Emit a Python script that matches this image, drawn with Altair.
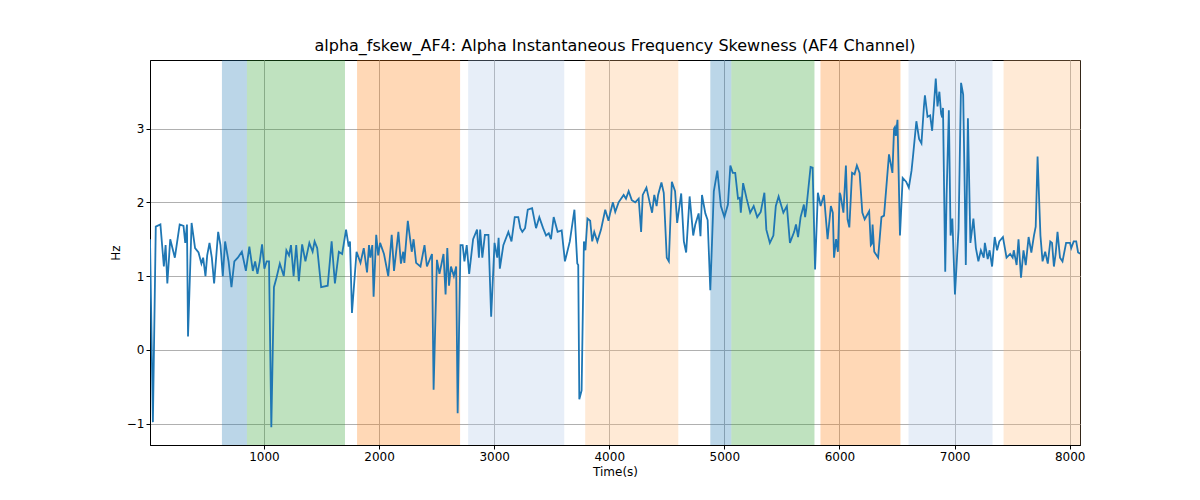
import altair as alt
import pandas as pd
import numpy as np

t = [10,35,60,100,130,145,160,185,225,267,300,315,330,339,370,400,430,455,470,490,505,525,545,565,600,620,640,660,690,715,740,770,805,840,870,900,920,940,960,980,1000,1020,1040,1060,1080,1100,1125,1155,1175,1195,1210,1230,1250,1270,1295,1320,1350,1375,1390,1410,1440,1490,1520,1545,1575,1600,1630,1650,1660,1675,1710,1740,1765,1790,1805,1815,1830,1840,1860,1875,1895,1925,1950,
     2009,2043,2080,2110,2130,2168,2190,2210,2220,2250,2284,2300,2322,2360,2395,2416,2460,2474,2503,2525,2560,2578,2593,2608,2625,2650,2670,2683,2704,2720,2733,2750,2768,2797,2826,2840,2849,2865,2884,2910,2930,2955,2975,2985,2994,3020,3057,3080,3104,3130,3145,3160,3180,3200,3232,3261,3285,3313,3335,3355,3371,3391,3420,3450,3474,3510,3544,3565,3572,3580,3597,3614,3625,3640,3660,3675,3690,3713,3740,3771,3795,3820,3849,3862,3877,
     4009,4032,4052,4081,4125,4145,4168,4195,4225,4255,4276,4290,4322,4350,4371,4390,4410,4423,4452,4472,4498,4516,4542,4570,4588,4623,4646,4666,4696,4727,4745,4774,4790,4803,4832,4852,4875,4904,4933,4962,4991,5020,5040,5060,5080,5103,5118,5126,5145,5174,5203,5232,5261,5290,5320,5336,5365,5394,5414,5437,5476,5505,5530,5565,5580,5597,5618,5645,5655,5664,5700,5717,5737,5760,5783,5810,5840,5867,5883,5893,5910,5925,5939,5960,5980,6000,
     6021,6046,6067,6081,6096,6119,6140,6160,6183,6206,6226,6264,6278,6287,6293,6307,6340,6368,6390,6432,6461,6475,6482,6490,6504,6525,6548,6577,6600,6623,6637,6664,6687,6707,6728,6736,6757,6778,6794,6823,6837,6852,6866,6875,6881,6899,6910,6928,6942,6956,6977,7006,7026,7043,7055,7064,7081,7101,7125,7145,7165,7185,7208,7217,7240,7255,7275,7296,7315,7333,7362,7391,7420,7440,7449,7472,7487,7507,7527,7545,7568,7590,7611,7625,7640,7663,7680,7701,7722,7742,7756,7771,7785,7800,7820,7840,7869,7900,7910,7930,7950,7965,7986]
v = [1.5,-0.98,1.67,1.7,1.13,1.42,0.9,1.5,1.25,1.7,1.68,1.45,1.7,0.18,1.72,1.38,1.32,1.17,1.25,1.0,1.28,1.45,1.25,0.9,1.6,1.42,1.0,1.47,1.2,0.85,1.2,1.25,1.33,1.07,1.4,1.07,1.2,1.03,1.2,1.43,1.1,1.2,1.2,-1.05,0.85,0.98,1.17,1.0,1.35,1.28,1.42,1.0,1.42,0.93,1.43,1.2,1.45,1.33,1.47,1.38,0.85,0.87,1.47,0.9,1.33,1.3,1.63,1.4,1.47,0.5,1.33,1.18,1.38,1.05,1.42,1.25,1.42,0.72,1.56,1.28,1.45,1.3,1.0,
     1.45,1.3,1.0,1.56,1.07,1.6,1.17,1.33,1.18,1.75,1.33,1.5,1.18,1.13,1.42,1.13,1.3,-0.54,1.22,1.03,1.3,0.75,1.38,0.87,1.13,1.0,1.13,-0.86,1.42,1.42,1.2,1.42,1.03,1.5,1.63,1.25,1.63,1.25,1.56,1.56,0.45,1.45,1.25,1.52,1.1,1.42,1.6,1.47,1.8,1.8,1.65,1.6,1.65,1.9,1.92,1.65,1.8,1.65,1.55,1.58,1.5,1.8,1.6,1.62,1.2,1.47,1.9,1.17,1.15,-0.67,-0.55,1.47,1.35,1.78,1.75,1.47,1.6,1.47,1.63,1.9,1.75,1.85,1.98,1.97,2.0,
     1.86,2.0,1.87,2.0,2.1,2.05,2.15,2.03,2.0,2.05,1.6,2.1,2.2,2.0,1.86,2.1,1.95,2.1,2.27,2.13,1.25,1.2,2.28,2.15,1.72,2.12,1.47,1.32,2.08,1.55,1.7,1.85,1.54,2.1,1.85,1.76,0.81,2.15,2.43,1.95,1.8,1.97,2.5,2.4,2.4,2.05,2.06,1.86,2.26,2.05,1.86,1.95,1.8,1.87,2.13,1.63,1.45,1.55,1.95,2.08,1.86,1.95,1.45,1.6,1.7,1.53,1.8,1.97,1.8,1.9,2.48,2.47,1.09,2.13,1.95,2.1,1.5,1.95,1.86,1.25,1.5,1.33,2.13,2.38,1.9,2.5,
     2.1,1.86,2.5,1.77,1.66,2.4,2.38,2.5,2.4,1.86,1.77,1.88,1.42,1.44,1.7,1.33,1.25,1.8,1.82,2.65,2.4,3.0,3.02,2.9,3.12,1.55,2.33,2.28,2.2,2.43,2.65,3.1,2.86,2.8,3.3,3.45,3.16,3.18,2.97,3.68,3.3,3.5,3.2,3.15,3.28,1.06,2.1,3.25,1.55,1.78,0.75,1.64,3.62,3.46,2.22,1.15,3.14,1.45,1.78,1.38,1.2,1.35,1.25,1.45,1.23,1.35,1.13,1.53,1.35,1.47,1.53,1.25,1.3,1.25,1.35,1.15,1.5,0.98,1.35,1.15,1.53,1.32,1.55,1.67,2.62,1.55,1.2,1.33,1.17,1.47,1.45,1.13,1.3,1.6,1.25,1.2,1.45,1.45,1.38,1.47,1.47,1.32,1.3]

# calibration of the first time readings against the axis ticks, per crop
cal_read = [[0, 1060, 1950], [2009, 2684, 3877], [4009, 4875, 6000], [6021, 6728, 7986]]
cal_true = [[0, 1064, 2078], [2009, 2684, 4090], [4009, 4878, 6066], [6009, 6734, 8096]]
crop_start = [0, 2000, 4000, 6010]
crop_limit = [2009, 4009, 6009, 8100]

span_start = [635, 852, 1809, 2774, 3791, 4878, 5061, 5835, 6600, 7426]
span_end = [852, 1704, 2704, 3609, 4600, 5061, 5783, 6530, 7330, 8096]
span_color = ["#1f77b4", "#2ca02c", "#ff7f0e", "#aec7e8", "#ffbb78",
              "#1f77b4", "#2ca02c", "#ff7f0e", "#aec7e8", "#ffbb78"]

n = min(len(t), len(v))
tt, vv = [], []
for ti, vi in zip(t[:n], v[:n]):
    k = max(i for i in range(4) if ti >= crop_start[i])
    tc = float(np.interp(ti, cal_read[k], cal_true[k], left=None))
    if ti > cal_read[k][-1]:
        tc = cal_true[k][-1]
    if tc < crop_limit[k]:
        tt.append(tc); vv.append(vi)
line_df = pd.DataFrame({"t": tt, "v": vv})
span_df = pd.DataFrame({"s": span_start, "e": span_end, "c": span_color})

W, H = 930, 385
xs = alt.Scale(domain=[10, 8090], nice=False, zero=False)
ys = alt.Scale(domain=[-1.29, 3.93], nice=False, zero=False)

spans = alt.Chart(span_df).mark_rect(opacity=0.3).encode(
    x=alt.X("s:Q", scale=xs), x2="e:Q",
    y=alt.value(0), y2=alt.value(H),
    color=alt.Color("c:N", scale=None),
)

line = alt.Chart(line_df).mark_line(color="#1f77b4", strokeWidth=1.8, clip=True).encode(
    x=alt.X("t:Q", scale=xs, title="Time(s)",
            axis=alt.Axis(values=[1000,2000,3000,4000,5000,6000,7000,8000], format="d")),
    y=alt.Y("v:Q", scale=ys, title="Hz", axis=alt.Axis(values=[-1,0,1,2,3])),
)

chart = alt.layer(spans, line).properties(
    width=W, height=H,
    title=alt.TitleParams("alpha_fskew_AF4: Alpha Instantaneous Frequency Skewness (AF4 Channel)",
                          fontSize=16, fontWeight="normal", font="DejaVu Sans", color="black", offset=6),
    autosize=alt.AutoSizeParams(type="none"),
    padding={"left": 142, "top": 52, "right": 10, "bottom": 50},
).configure_axis(
    grid=True, gridColor="#b0b0b0", gridWidth=1, domainColor="black", tickColor="black",
    labelFont="DejaVu Sans", titleFont="DejaVu Sans", labelFontSize=12, titleFontSize=12,
    titleFontWeight="normal", labelColor="black", titleColor="black", tickSize=4,
).configure_view(stroke="black", strokeWidth=1)

chart.save("out.html", embed_options={"renderer": "svg", "actions": False})
